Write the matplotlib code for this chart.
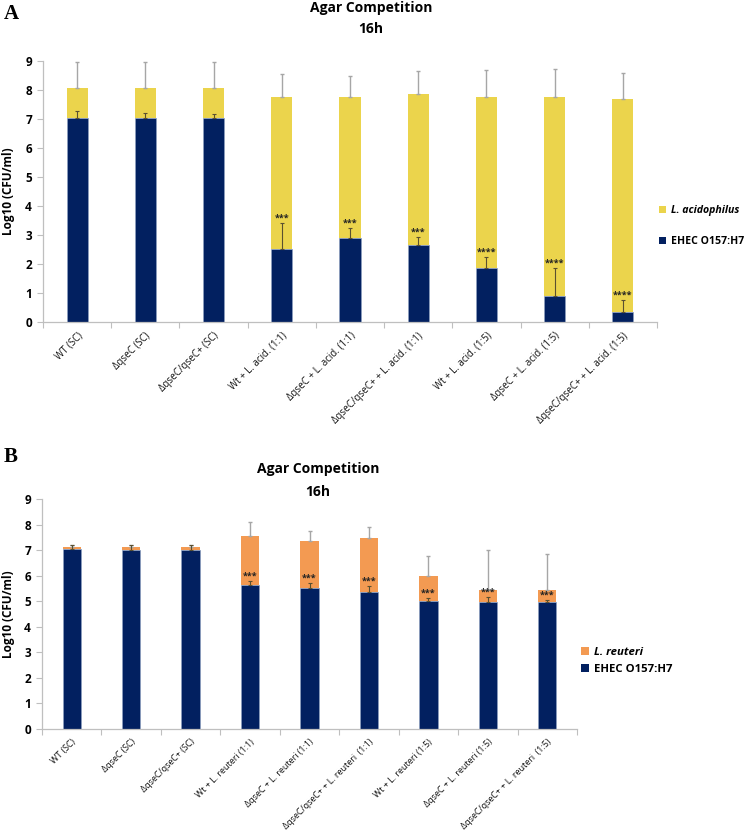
import matplotlib
matplotlib.use("Agg")
import matplotlib.pyplot as plt
import numpy as np
from matplotlib.patches import Patch

plt.rcParams['font.family'] = ['Open Sans', 'DejaVu Sans']

# ---------------- data ----------------
cats_a = ['WT (SC)', 'ΔqseC (SC)', 'ΔqseC/qseC+ (SC)', 'Wt + L. acid. (1:1)',
          'ΔqseC + L. acid. (1:1)', 'ΔqseC/qseC+ + L. acid. (1:1)',
          'Wt + L. acid. (1:5)', 'ΔqseC + L. acid. (1:5)', 'ΔqseC/qseC+ + L. acid. (1:5)']
ehec_a = [7.05, 7.02, 7.03, 2.52, 2.90, 2.66, 1.86, 0.90, 0.33]
ehec_err_a = [0.22, 0.20, 0.13, 0.88, 0.33, 0.27, 0.38, 0.96, 0.42]
lacid_a = [1.01, 1.04, 1.03, 5.25, 4.86, 5.20, 5.90, 6.86, 7.36]
total_err_a = [0.90, 0.90, 0.90, 0.77, 0.73, 0.80, 0.92, 0.96, 0.88]
stars_a = ['', '', '', '***', '***', '***', '****', '****', '****']

cats_b = ['WT (SC)', 'ΔqseC (SC)', 'ΔqseC/qseC+ (SC)', 'Wt + L. reuteri (1:1)',
          'ΔqseC + L. reuteri (1:1)', 'ΔqseC/qseC+ + L. reuteri  (1:1)',
          'Wt + L. reuteri (1:5)', 'ΔqseC + L. reuteri (1:5)', 'ΔqseC/qseC+ + L. reuteri  (1:5)']
ehec_b = [7.04, 6.99, 7.02, 5.62, 5.50, 5.35, 5.00, 4.96, 4.96]
ehec_err_b = [0.16, 0.20, 0.18, 0.16, 0.20, 0.23, 0.11, 0.22, 0.08]
reuteri_b = [0.07, 0.13, 0.10, 1.93, 1.85, 2.12, 0.97, 0.47, 0.47]
total_err_b = [0.10, 0.08, 0.08, 0.55, 0.40, 0.43, 0.80, 1.57, 1.41]
stars_b = ['', '', '', '***', '***', '***', '***', '***', '***']

yticks = list(range(0, 10))

NAVY = '#022060'
YELLOW = '#EBD44C'
ORANGE = '#F39A52'
AXCOL = '#BFBFBF'

W, H = 749, 838
fig = plt.figure(figsize=(W / 100, H / 100), dpi=100)


def px_axes(l, t, r, b):
    return fig.add_axes([l / W, 1 - b / H, (r - l) / W, (b - t) / H])


def panel(ax, cats, ehec, ehec_err, top, top_err, stars, topcol, toplabel, leg, xfs):
    n = len(cats)
    x = np.arange(n)
    ehec = np.array(ehec)
    top = np.array(top)
    total = ehec + top
    bw = 0.31
    ax.bar(x, ehec, width=bw, color=NAVY, edgecolor='#8EA0C0', linewidth=0.5, zorder=2)
    ax.bar(x, top, bottom=ehec, width=bw, color=topcol, edgecolor='none', zorder=2)
    ax.errorbar(x, total, yerr=[np.zeros(n), top_err], fmt='none', ecolor='#A6A6A6',
                elinewidth=1.0, capsize=1.5, capthick=1.0, zorder=3)
    ax.errorbar(x, ehec, yerr=[np.zeros(n), ehec_err], fmt='none', ecolor='#5A5030',
                elinewidth=0.8, capsize=1.5, capthick=0.8, zorder=3)
    for xi, e, ee, s in zip(x, ehec, ehec_err, stars):
        if s:
            ax.text(xi, e + ee + 0.02, s, ha='center', va='bottom', fontsize=6.5,
                    fontweight='bold', color='#222222', zorder=4)
    ax.set_xlim(-0.5, n - 0.5)
    ax.set_ylim(0, 9)
    ax.set_yticks(yticks)
    ax.set_yticklabels([str(v) for v in yticks], fontsize=8.5, fontweight='bold')
    ax.set_xticks(x)
    ax.set_xticklabels(cats, rotation=45, ha='right', rotation_mode='anchor',
                       fontsize=xfs, color='#111111')
    ax.set_xticks(np.arange(-0.5, n, 1.0), minor=True)
    ax.tick_params(axis='x', which='major', length=0, pad=6)
    ax.tick_params(axis='x', which='minor', length=4, color=AXCOL, width=0.8)
    ax.tick_params(axis='y', length=4, color=AXCOL, width=0.8, pad=4)
    for s in ['top', 'right']:
        ax.spines[s].set_visible(False)
    for s in ['left', 'bottom']:
        ax.spines[s].set_color(AXCOL)
        ax.spines[s].set_linewidth(0.9)
    ax.set_ylabel('Log10 (CFU/ml)', fontsize=8.5, fontweight='bold')
    handles = [Patch(facecolor=topcol, edgecolor='none'),
               Patch(facecolor=NAVY, edgecolor='none')]
    labels = [toplabel, 'EHEC O157:H7']
    lg = fig.legend(handles, labels, loc='upper left',
                    bbox_to_anchor=(leg[0] / W, 1 - leg[1] / H),
                    frameon=False, fontsize=leg[3], handlelength=0.7, handleheight=0.7,
                    handletextpad=0.4, labelspacing=leg[2], borderaxespad=0,
                    borderpad=0)
    t0, t1 = lg.get_texts()
    t0.set_fontstyle('italic'); t0.set_fontweight('bold')
    t1.set_fontweight('bold')


axA = px_axes(43, 61, 657, 322)
panel(axA, cats_a, ehec_a, ehec_err_a, lacid_a, total_err_a, stars_a, YELLOW,
      'L. acidophilus', (659, 205, 1.9, 7.6), 7.0)
axA.yaxis.set_label_coords(-0.045, 0.5)

axB = px_axes(42, 499, 577, 729)
panel(axB, cats_b, ehec_b, ehec_err_b, reuteri_b, total_err_b, stars_b, ORANGE,
      'L. reuteri', (581, 647, 0.5, 8.2), 6.4)
axB.yaxis.set_label_coords(-0.05, 0.5)

for xc, y1, y2 in [(371, 8, 29), (318, 469, 492)]:
    fig.text(xc / W, 1 - y1 / H, 'Agar Competition', ha='center', va='center',
             fontsize=10, fontweight='bold')
    fig.text(xc / W, 1 - y2 / H, '16h', ha='center', va='center',
             fontsize=10, fontweight='bold')

fig.text(4 / W, 1 - 14 / H, 'A', ha='left', va='center', fontsize=15,
         fontweight='bold', family='Liberation Serif')
fig.text(4 / W, 1 - 457 / H, 'B', ha='left', va='center', fontsize=15,
         fontweight='bold', family='Liberation Serif')

fig.savefig('out.png', dpi=100)
